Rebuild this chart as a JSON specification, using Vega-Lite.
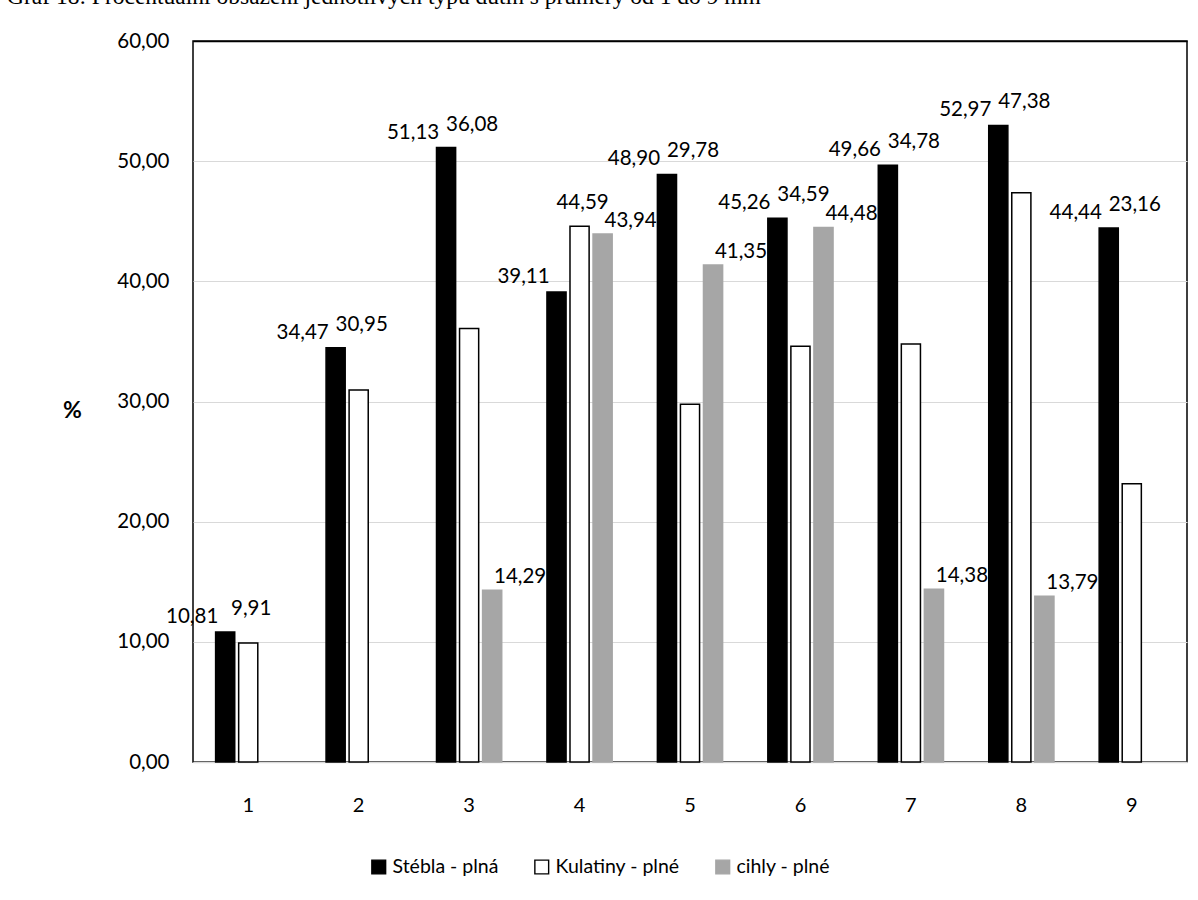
{
  "$schema": "https://vega.github.io/schema/vega-lite/v6.json",
  "autosize": {"type": "none"},
  "width": 994,
  "height": 721,
  "padding": {"left": 193, "top": 41, "right": 11, "bottom": 138},
  "background": "#ffffff",
  "title": {
    "text": "Graf 18: Procentuální obsazení jednotlivých typů dutin s průměry od 1 do 9 mm",
    "anchor": "start",
    "frame": "group",
    "dx": -186,
    "dy": 20,
    "offset": 24,
    "baseline": "alphabetic",
    "font": "Liberation Serif",
    "fontSize": 23.5,
    "fontWeight": "normal",
    "color": "#000000"
  },
  "config": {
    "font": "Lato",
    "view": {"stroke": "#000000", "strokeWidth": 1.5},
    "axis": {"labelFont": "Lato", "labelColor": "#000000"},
    "legend": {"labelFont": "Lato"}
  },
  "data": {
    "values": [
      {"g": "1", "s": "Stébla - plná", "v": 10.81},
      {"g": "1", "s": "Kulatiny - plné", "v": 9.91},
      {"g": "2", "s": "Stébla - plná", "v": 34.47},
      {"g": "2", "s": "Kulatiny - plné", "v": 30.95},
      {"g": "3", "s": "Stébla - plná", "v": 51.13},
      {"g": "3", "s": "Kulatiny - plné", "v": 36.08},
      {"g": "3", "s": "cihly - plné", "v": 14.29},
      {"g": "4", "s": "Stébla - plná", "v": 39.11},
      {"g": "4", "s": "Kulatiny - plné", "v": 44.59},
      {"g": "4", "s": "cihly - plné", "v": 43.94},
      {"g": "5", "s": "Stébla - plná", "v": 48.90},
      {"g": "5", "s": "Kulatiny - plné", "v": 29.78},
      {"g": "5", "s": "cihly - plné", "v": 41.35},
      {"g": "6", "s": "Stébla - plná", "v": 45.26},
      {"g": "6", "s": "Kulatiny - plné", "v": 34.59},
      {"g": "6", "s": "cihly - plné", "v": 44.48},
      {"g": "7", "s": "Stébla - plná", "v": 49.66},
      {"g": "7", "s": "Kulatiny - plné", "v": 34.78},
      {"g": "7", "s": "cihly - plné", "v": 14.38},
      {"g": "8", "s": "Stébla - plná", "v": 52.97},
      {"g": "8", "s": "Kulatiny - plné", "v": 47.38},
      {"g": "8", "s": "cihly - plné", "v": 13.79},
      {"g": "9", "s": "Stébla - plná", "v": 44.44},
      {"g": "9", "s": "Kulatiny - plné", "v": 23.16}
    ]
  },
  "transform": [
    {"calculate": "replace(format(datum.v, '.2f'), '.', ',')", "as": "lbl"},
    {"calculate": "datum.s == 'cihly - plné' ? 0 : datum.v", "as": "bw"},
    {"joinaggregate": [{"op": "max", "field": "bw", "as": "top"}], "groupby": ["g"]}
  ],
  "encoding": {
    "x": {
      "field": "g",
      "type": "nominal",
      "sort": ["1", "2", "3", "4", "5", "6", "7", "8", "9"],
      "scale": {"paddingInner": 0.374, "paddingOuter": 0.187},
      "axis": {
        "title": null,
        "labelAngle": 0,
        "labelFontSize": 20,
        "labelPadding": 33,
        "ticks": false,
        "domainColor": "#d9d9d9",
        "domainWidth": 1.6
      }
    },
    "xOffset": {
      "field": "s",
      "type": "nominal",
      "sort": ["Stébla - plná", "Kulatiny - plné", "cihly - plné"],
      "scale": {"domain": ["Stébla - plná", "Kulatiny - plné", "cihly - plné"], "paddingInner": 0.17, "paddingOuter": 0.085}
    }
  },
  "layer": [
    {
      "mark": {"type": "bar", "strokeWidth": 1.5},
      "encoding": {
        "y": {
          "field": "v",
          "type": "quantitative",
          "scale": {"domain": [0, 60], "nice": false},
          "axis": {
            "values": [0, 10, 20, 30, 40, 50, 60],
            "labelExpr": "replace(format(datum.value, '.2f'), '.', ',')",
            "labelFontSize": 20.5,
            "labelPadding": 24,
            "ticks": false,
            "domain": false,
            "grid": true,
            "gridColor": {"condition": {"test": "datum.value == 60", "value": "#000000"}, "value": "#d9d9d9"},
            "gridWidth": {"condition": {"test": "datum.value == 60", "value": 1.5}, "value": 1},
            "title": "%",
            "titleAngle": 0,
            "titleX": -121,
            "titleY": 369,
            "titleAlign": "center",
            "titleBaseline": "middle",
            "titleFontSize": 23,
            "titleFontWeight": "bold",
            "titleFont": "Lato",
            "titleColor": "#000000"
          }
        },
        "fill": {
          "field": "s",
          "type": "nominal",
          "scale": {"domain": ["Stébla - plná", "Kulatiny - plné", "cihly - plné"], "range": ["#000000", "#ffffff", "#a6a6a6"]},
          "legend": {
            "title": null,
            "orient": "none",
            "direction": "horizontal",
            "legendX": 176,
            "legendY": 816,
            "symbolType": "square",
            "symbolSize": 190,
            "symbolStrokeWidth": 1.4,
            "labelFontSize": 19.5,
            "labelOffset": 4,
            "columnPadding": 33,
            "labelColor": "#000000"
          }
        },
        "stroke": {
          "field": "s",
          "type": "nominal",
          "scale": {"domain": ["Stébla - plná", "Kulatiny - plné", "cihly - plné"], "range": ["#000000", "#000000", "#a6a6a6"]},
          "legend": null
        }
      }
    },
    {
      "transform": [{"filter": "datum.s == 'Stébla - plná'"}],
      "mark": {"type": "text", "fontSize": 20.5, "font": "Lato", "color": "#000000", "align": "center", "baseline": "bottom", "dx": -33, "dy": -5},
      "encoding": {
        "y": {"field": "v", "type": "quantitative"},
        "text": {"field": "lbl"}
      }
    },
    {
      "transform": [{"filter": "datum.s == 'Kulatiny - plné'"}],
      "mark": {"type": "text", "fontSize": 20.5, "font": "Lato", "color": "#000000", "align": "center", "baseline": "bottom", "dx": 3, "dy": -13},
      "encoding": {
        "y": {"field": "top", "type": "quantitative"},
        "text": {"field": "lbl"}
      }
    },
    {
      "transform": [{"filter": "datum.s == 'cihly - plné'"}],
      "mark": {"type": "text", "fontSize": 20.5, "font": "Lato", "color": "#000000", "align": "center", "baseline": "bottom", "dx": 28, "dy": -3},
      "encoding": {
        "y": {"field": "v", "type": "quantitative"},
        "text": {"field": "lbl"}
      }
    }
  ]
}
